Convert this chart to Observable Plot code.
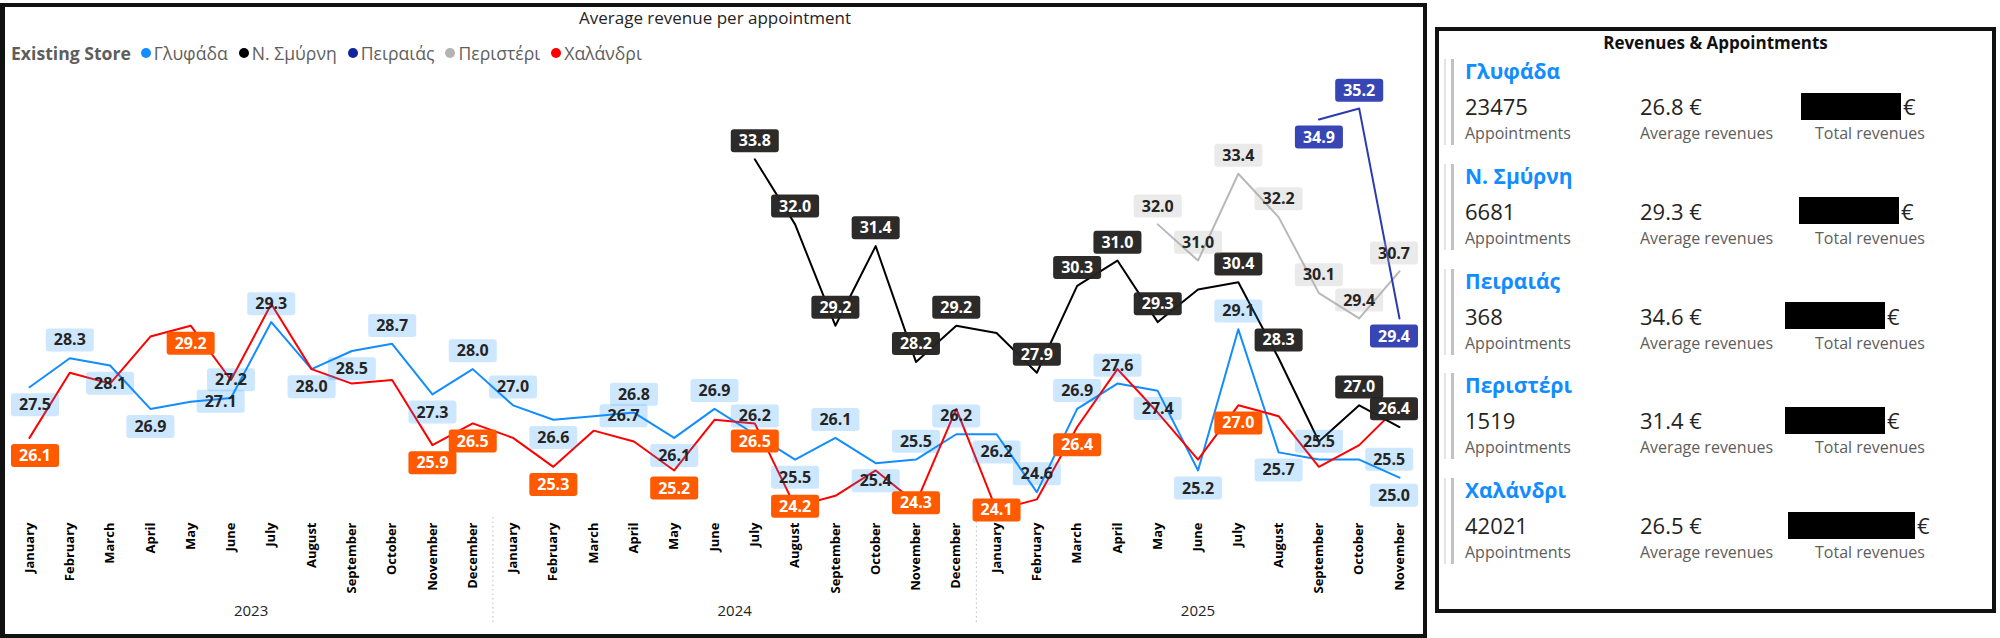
<!DOCTYPE html>
<html><head><meta charset="utf-8">
<script src="https://cdn.jsdelivr.net/npm/d3@7"></script>
<script src="https://cdn.jsdelivr.net/npm/@observablehq/plot@0.6"></script>
<style>
body{margin:0;width:2000px;height:638px;position:relative;background:#fff;overflow:hidden;font-family:"Open Sans",sans-serif;}
#leftPanel{position:absolute;left:0;top:3px;width:1427px;height:635px;border:4px solid #111;border-left-width:5px;box-sizing:border-box;}
#title{position:absolute;left:0;width:1430px;top:6px;text-align:center;font-size:17px;color:#252423;line-height:24px;}
#legend{position:absolute;left:11px;top:41px;display:flex;align-items:center;font-size:17.6px;color:#605E5C;line-height:24px;white-space:nowrap;}
#legend .hd{font-weight:700;margin-right:10px;}
#legend .it{display:flex;align-items:center;margin-right:11px;}
#legend .dot{width:10px;height:10px;border-radius:50%;margin-right:3px;}
#chart{position:absolute;left:0;top:70px;}
#rightPanel{position:absolute;left:1435px;top:27px;width:561px;height:586px;border:4px solid #111;box-sizing:border-box;}
.rp{position:absolute;white-space:nowrap;}
</style></head><body>
<div id="leftPanel"></div>
<div id="title">Average revenue per appointment</div>
<div id="legend"></div>
<div id="chart"></div>
<div id="rightPanel"></div>
<div id="rightContent"></div>
<script>
// ---------- data ----------
const monthNames = ["January","February","March","April","May","June","July","August","September","October","November","December"];
const years = ["2023","2024","2025"];
const storeNames = ["Γλυφάδα","Ν. Σμύρνη","Πειραιάς","Περιστέρι","Χαλάνδρι"];
const _ = null;
// Jan 2023 ... Nov 2025 (35 months)
const glyfada   = [27.5,28.3,28.1,26.9,27.1,27.2,29.3,28.0,28.5,28.7,27.3,28.0, 27.0,26.6,26.7,26.8,26.1,26.9,26.2,25.5,26.1,25.4,25.5,26.2, 26.2,24.6,26.9,27.6,27.4,25.2,29.1,25.7,25.5,25.5,25.0];
const nSmyrni   = [_,_,_,_,_,_,_,_,_,_,_,_, _,_,_,_,_,_,33.8,32.0,29.2,31.4,28.2,29.2, 29.0,27.9,30.3,31.0,29.3,30.2,30.4,28.3,26.0,27.0,26.4];
const peiraias  = [_,_,_,_,_,_,_,_,_,_,_,_, _,_,_,_,_,_,_,_,_,_,_,_, _,_,_,_,_,_,_,_,34.9,35.2,29.4];
const peristeri = [_,_,_,_,_,_,_,_,_,_,_,_, _,_,_,_,_,_,_,_,_,_,_,_, _,_,_,_,32.0,31.0,33.4,32.2,30.1,29.4,30.7];
const chalandri = [26.1,27.9,27.6,28.9,29.2,27.7,29.8,28.0,27.6,27.7,25.9,26.5, 26.1,25.3,26.3,26.0,25.2,26.6,26.5,24.2,24.5,25.2,24.3,26.9, 24.1,24.4,26.4,28.0,26.8,25.5,27.0,26.7,25.3,25.9,27.0];
// data-label placement per month: a=above, b=below, r=right, c=centre, -=no label
const glyfadaLbl   = "babbraabbaba" + "abrabaababaa" + "baaabbabarb";
const nSmyrniLbl   = "------------------" + "aaaaaa-aaaa-aa-aa";
const peiraiasLbl  = "--------------------------------" + "bab";
const peristeriLbl = "----------------------------" + "aaaaaaa";
const chalandriLbl = "b---b-----bb-b--b-bc--c-c-b---b----";
// summary card
const appointments = [23475, 6681, 368, 1519, 42021];
const avgRevenue = [26.8, 29.3, 34.6, 31.4, 26.5];

// ---------- styles ----------
const styles = [
  {key:"gly", name:storeNames[0], values:glyfada,   lbl:glyfadaLbl,   line:"#118DFF", dot:"#118DFF", bg:"#118DFF", bgOp:0.21, txt:"#252423"},
  {key:"nsm", name:storeNames[1], values:nSmyrni,   lbl:nSmyrniLbl,   line:"#000000", dot:"#000000", bg:"#252423", bgOp:0.97, txt:"#ffffff"},
  {key:"pei", name:storeNames[2], values:peiraias,  lbl:peiraiasLbl,  line:"#2B3AAE", dot:"#12239E", bg:"#3845B5", bgOp:1, txt:"#ffffff"},
  {key:"per", name:storeNames[3], values:peristeri, lbl:peristeriLbl, line:"#B8B8B8", dot:"#B3B3B3", bg:"#B3B3B3", bgOp:0.27, txt:"#252423"},
  {key:"cha", name:storeNames[4], values:chalandri, lbl:chalandriLbl, line:"#FF0000", dot:"#FF0000", bg:"#FF5A00", bgOp:1, txt:"#ffffff"}
];
const drawOrder = ["gly","cha","nsm","per","pei"];
const offsets = {a:[0,-18], b:[0,18], r:[30,0], c:[0,0]};

// ---------- legend ----------
const leg = document.getElementById("legend");
leg.innerHTML = `<span class="hd">Existing Store</span>` + styles.map(s =>
  `<span class="it"><span class="dot" style="background:${s.dot}"></span>${s.name}</span>`).join("");

// ---------- chart ----------
const idx = d3.range(35);
const rows = vals => idx.filter(i => vals[i] != null).map(i => ({i, v: vals[i]}));
const yearCenters = [5.5, 17.5, 29];
const ordered = drawOrder.map(k => styles.find(s => s.key === k));

const marks = [
  Plot.ruleX([11.5, 23.5], {stroke:"#c8c6c4", strokeWidth:1.2, strokeDasharray:"1.5,3", insetTop:423.4, insetBottom:-105}),
  Plot.axisX(idx, {tickFormat: i => monthNames[i % 12], tickRotate:-90, tickSize:0, tickPadding:5, fontSize:13, fontWeight:700, fill:"#000", fontFamily:"Open Sans"}),
  Plot.axisX(yearCenters, {tickFormat: d => years[yearCenters.indexOf(d)], tickSize:0, tickPadding:88, fontSize:15, fill:"#252423", fontFamily:"Open Sans", label:null})
];
for (const s of ordered) marks.push(Plot.line(rows(s.values), {x:"i", y:"v", stroke:s.line, strokeWidth:2}));
const labelGroups = [];   // style of each label text mark, in mark order
for (const s of ordered) {
  for (const code of "abrc") {
    const data = rows(s.values).filter(d => s.lbl[d.i] === code);
    if (!data.length) continue;
    labelGroups.push(s);
    marks.push(Plot.text(data, {x:"i", y:"v", text: d => d.v.toFixed(1), dx:offsets[code][0], dy:offsets[code][1],
      fill:s.txt, fontSize:16, fontWeight:700, fontFamily:"Open Sans"}));
  }
}

const svg = Plot.plot({
  width:1430, height:568,
  marginLeft:29, marginRight:31, marginTop:23.6, marginBottom:121,
  x:{type:"linear", domain:[0,34], label:null},
  y:{domain:[23.9,35.6], axis:null},
  style:{background:"transparent", overflow:"visible", fontFamily:"Open Sans"},
  marks
});
document.getElementById("chart").append(svg);

// label backgrounds (boxes sized from the rendered text)
const NS = "http://www.w3.org/2000/svg";
const textGroups = Array.from(svg.querySelectorAll('g[aria-label="text"]'));
textGroups.forEach((g, gi) => {
  const st = labelGroups[gi];
  if (!st) return;
  g.querySelectorAll("text").forEach(t => {
    const bb = t.getBBox();
    const w = bb.width + 16, h = 23;
    const cx = bb.x + bb.width / 2, cy = bb.y + bb.height / 2 + 0.5;
    const r = document.createElementNS(NS, "rect");
    r.setAttribute("x", cx - w / 2); r.setAttribute("y", cy - h / 2);
    r.setAttribute("width", w); r.setAttribute("height", h);
    r.setAttribute("rx", 3); r.setAttribute("fill", st.bg); r.setAttribute("fill-opacity", st.bgOp);
    r.setAttribute("stroke", "none");
    const tr = t.getAttribute("transform");
    if (tr) r.setAttribute("transform", tr);
    g.insertBefore(r, t);
    const rb = r.getBoundingClientRect();
    let shift = 0;
    if (rb.left < 11) shift = 11 - rb.left;
    if (rb.right > 1418) shift = 1418 - rb.right;
    if (shift) {
      r.setAttribute("transform", `translate(${shift},0) ` + (tr || ""));
      t.setAttribute("transform", `translate(${shift},0) ` + (tr || ""));
    }
  });
});

// ---------- right card ----------
const rc = document.getElementById("rightContent");
const boxes = [[1801,100],[1799,100],[1785,100],[1785,100],[1788,127]];
let html = `<div class="rp" style="left:1435px;width:561px;top:31px;text-align:center;font-size:17px;font-weight:700;color:#111;line-height:24px">Revenues &amp; Appointments</div>`;
storeNames.forEach((n, k) => {
  const ny = 71 + k * 104.75, vy = ny + 35, ly = ny + 62;
  html += `<div class="rp" style="left:1444px;top:${ny-12}px;width:2px;height:${ly-ny+24}px;background:#E3E3E3"></div>`;
  html += `<div class="rp" style="left:1451px;top:${ny-12}px;width:2.5px;height:${ly-ny+24}px;background:#C4C2C0"></div>`;
  html += `<div class="rp" style="left:1465px;top:${ny-15}px;font-size:21px;font-weight:700;color:#118DFF;line-height:30px">${n}</div>`;
  html += `<div class="rp" style="left:1465px;top:${vy-15}px;font-size:22px;color:#252423;line-height:30px">${appointments[k]}</div>`;
  html += `<div class="rp" style="left:1640px;top:${vy-15}px;font-size:22px;color:#252423;line-height:30px">${avgRevenue[k].toFixed(1)} €</div>`;
  html += `<div class="rp" style="left:${boxes[k][0]}px;top:${vy-13.5}px;width:${boxes[k][1]}px;height:27px;background:#000"></div>`;
  html += `<div class="rp" style="left:${boxes[k][0]+boxes[k][1]+2}px;top:${vy-15}px;font-size:22px;color:#252423;line-height:30px">€</div>`;
  html += `<div class="rp" style="left:1465px;top:${ly-11}px;font-size:16px;color:#605E5C;line-height:22px">Appointments</div>`;
  html += `<div class="rp" style="left:1640px;top:${ly-11}px;font-size:16px;color:#605E5C;line-height:22px">Average revenues</div>`;
  html += `<div class="rp" style="left:1815px;top:${ly-11}px;font-size:16px;color:#605E5C;line-height:22px">Total revenues</div>`;
});
rc.innerHTML = html;
</script>
</body></html>
